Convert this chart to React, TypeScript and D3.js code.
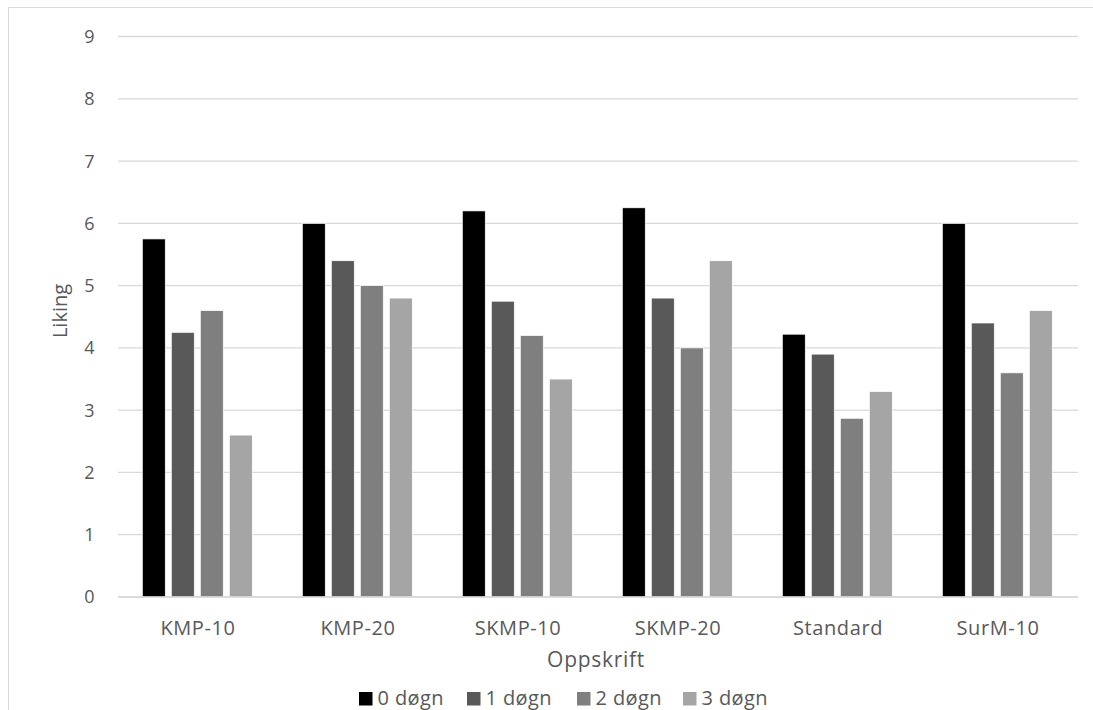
import React from "react";
import * as d3 from "d3";

const categories = ["KMP-10", "KMP-20", "SKMP-10", "SKMP-20", "Standard", "SurM-10"];
const seriesNames = ["0 døgn", "1 døgn", "2 døgn", "3 døgn"];
const seriesColors = ["#000000", "#595959", "#7f7f7f", "#a5a5a5"];
const day0 = [5.75, 6.0, 6.2, 6.25, 4.22, 6.0];
const day1 = [4.25, 5.4, 4.75, 4.8, 3.9, 4.4];
const day2 = [4.6, 5.0, 4.2, 4.0, 2.87, 3.6];
const day3 = [2.6, 4.8, 3.5, 5.4, 3.3, 4.6];
const yTicks = [0, 1, 2, 3, 4, 5, 6, 7, 8, 9];

const series = [day0, day1, day2, day3];

const W = 1093;
const H = 710;
const plot = { left: 118, right: 1078, top: 36.5, bottom: 597 };
const font = "'Open Sans', 'Noto Sans', sans-serif";
const textColor = "#595959";

export default function App() {
  const x = d3.scaleBand<string>().domain(categories).range([plot.left, plot.right]).paddingInner(0).paddingOuter(0);
  const inner = d3
    .scaleBand<number>()
    .domain(seriesNames.map((_, i) => i))
    .range([24.3, 134.3])
    .paddingInner(0.207)
    .paddingOuter(0);
  const y = d3.scaleLinear().domain([0, 9]).range([plot.bottom, plot.top]);

  const legendX = [359, 467, 577, 683];

  return (
    <svg
      width={W}
      height={H}
      style={{ position: "absolute", left: 0, top: 0, display: "block", background: "#fff" }}
      fontFamily={font}
    >
      <rect x={8.5} y={7.5} width={W + 10} height={H + 10} fill="#fff" stroke="#d9d9d9" strokeWidth={1} />
      {yTicks.map((t) => (
        <g key={t}>
          <line x1={plot.left} x2={plot.right} y1={y(t)} y2={y(t)} stroke="#d9d9d9" strokeWidth={1.3} />
          <text x={94.5} y={y(t)} dy="0.36em" textAnchor="end" fontSize={18} fill={textColor}>
            {t}
          </text>
        </g>
      ))}
      {categories.map((c, ci) => (
        <g key={c}>
          {series.map((vals, si) => (
            <rect
              key={si}
              x={(x(c) as number) + (inner(si) as number)}
              y={y(vals[ci])}
              width={inner.bandwidth()}
              height={y(0) - y(vals[ci])}
              fill={seriesColors[si]}
              stroke="#ffffff"
              strokeWidth={0.75}
            />
          ))}
          <text
            x={(x(c) as number) + x.bandwidth() / 2}
            y={635}
            textAnchor="middle"
            fontSize={20}
            letterSpacing={0.6}
            fill={textColor}
          >
            {c}
          </text>
        </g>
      ))}
      <line x1={plot.left} x2={plot.right} y1={y(0)} y2={y(0)} stroke="#d9d9d9" strokeWidth={1.3} />
      <text
        transform={`translate(67,311) rotate(-90)`}
        textAnchor="middle"
        fontSize={20}
        fill={textColor}
      >
        Liking
      </text>
      <text x={596} y={667} textAnchor="middle" fontSize={21} letterSpacing={0.7} fill={textColor}>
        Oppskrift
      </text>
      {seriesNames.map((s, i) => (
        <g key={s}>
          <rect x={legendX[i]} y={692} width={13.5} height={13.5} fill={seriesColors[i]} />
          <text x={legendX[i] + 18.5} y={704.5} fontSize={20} letterSpacing={0.4} fill={textColor}>
            {s}
          </text>
        </g>
      ))}
    </svg>
  );
}
